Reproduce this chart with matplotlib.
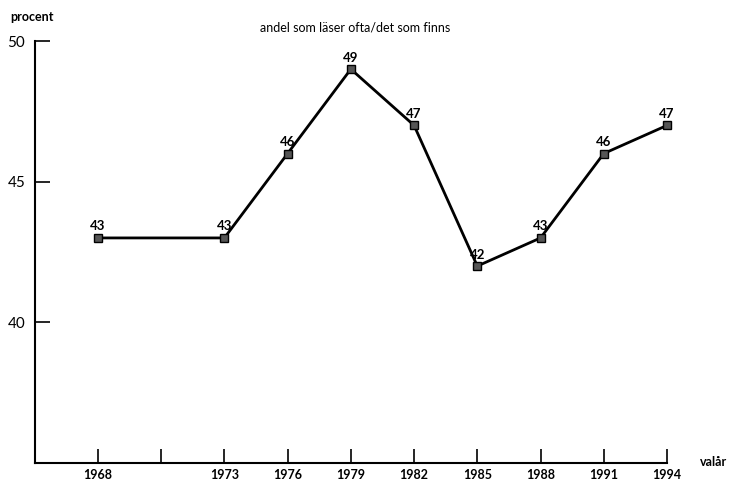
import matplotlib
matplotlib.use("Agg")
import matplotlib.pyplot as plt

# categorical slots along the x axis (one unlabeled slot between 1968 and 1973)
tick_labels = ["1968", "", "1973", "1976", "1979", "1982", "1985", "1988", "1991", "1994"]
years = ["1968", "1973", "1976", "1979", "1982", "1985", "1988", "1991", "1994"]
values = [43, 43, 46, 49, 47, 42, 43, 46, 47]

plt.rcParams["font.family"] = ["Lato", "DejaVu Sans"]

fig = plt.figure(figsize=(7.36, 4.87), dpi=100)
ax = fig.add_axes([35 / 736, 1 - 463 / 487, (667 - 35) / 736, (463 - 41) / 487])

xpos = [tick_labels.index(y) for y in years]
ax.plot(xpos, values, color="black", lw=2, marker="s", ms=6,
        mfc="#555555", mec="black", mew=1, zorder=3, clip_on=False)
for x, v in zip(xpos, values):
    ax.annotate(str(v), (x, v), xytext=(0, 4), textcoords="offset points",
                ha="center", va="bottom", fontsize=9.5, fontweight="bold")

ax.set_xlim(-0.995, 9)
ax.set_ylim(35, 50)
ax.set_xticks(range(len(tick_labels)))
ax.set_xticklabels(tick_labels, fontsize=9, fontweight="bold")
ax.set_yticks([40, 45, 50])
ax.set_yticklabels(["40", "45", "50"], fontsize=11)
ax.tick_params(axis="x", direction="in", length=10, width=1.2, pad=4)
ax.tick_params(axis="y", direction="in", length=11, width=1.2, pad=7)
for s in ["top", "right"]:
    ax.spines[s].set_visible(False)
for s in ["left", "bottom"]:
    ax.spines[s].set_linewidth(1.5)

fig.text(10 / 736, 1 - 17 / 487, "procent", fontsize=9, fontweight="bold", va="center")
fig.text(355 / 736, 1 - 27 / 487, "andel som läser ofta/det som finns", fontsize=9,
         ha="center", va="center")
fig.text(700 / 736, 1 - 462 / 487, "valår", fontsize=9, fontweight="bold", va="center")

fig.savefig("out.png", dpi=100)
